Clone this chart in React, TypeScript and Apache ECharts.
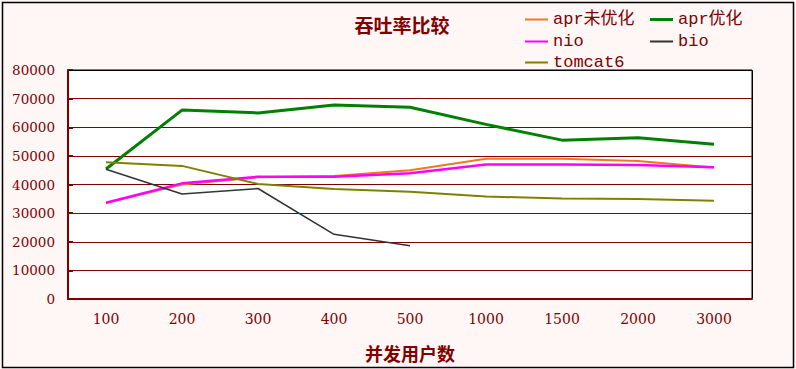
import React, { useEffect, useRef } from "react";
import * as echarts from "echarts";

const categories = ["100", "200", "300", "400", "500", "1000", "1500", "2000", "3000"];
const aprUnopt = [33500, 40000, 42500, 43000, 45000, 49000, 49000, 48200, 45900];
const aprOpt = [45400, 66000, 65000, 67800, 67000, 61000, 55500, 56300, 54100];
const nio = [33600, 40400, 42700, 42700, 43900, 47000, 47000, 46800, 46000];
const bio = [45300, 36700, 38600, 22600, 18600, null, null, null, null];
const tomcat6 = [47800, 46500, 40200, 38400, 37500, 35800, 35100, 34900, 34300];

const DARK = "#800000";
const SERIF = "'DejaVu Serif', 'Noto Sans CJK SC', serif";
const LEGEND_FONT = "'Liberation Mono', 'Noto Sans CJK SC', monospace";

export default function App() {
  const ref = useRef<HTMLDivElement>(null);
  useEffect(() => {
    document.body.style.margin = "0";
    const chart = echarts.init(ref.current!, undefined, { renderer: "svg" });
    const legendItem = (name: string, left: number, top: number, h: number) => ({
      data: [name],
      left,
      top,
      padding: 0,
      icon: "rect",
      itemWidth: 23,
      itemHeight: h,
      itemGap: 5,
      textStyle: { color: DARK, fontFamily: LEGEND_FONT, fontSize: 17 },
    });
    const line = (name: string, data: (number | null)[], color: string, width: number) => ({
      name,
      type: "line",
      data,
      symbol: "none",
      connectNulls: false,
      lineStyle: { color, width },
      itemStyle: { color },
    });
    chart.setOption({
      animation: false,
      backgroundColor: "#fff6f6",
      title: {
        text: "吞吐率比较",
        left: 397,
        textAlign: "center",
        top: 11,
        textStyle: { color: DARK, fontSize: 19, fontWeight: "bold", fontFamily: SERIF },
      },
      legend: [
        legendItem("apr未优化", 525, 11, 2),
        legendItem("apr优化", 650, 11, 3),
        legendItem("nio", 525, 33, 2),
        legendItem("bio", 650, 33, 2),
        legendItem("tomcat6", 525, 54, 2),
      ],
      grid: {
        left: 68,
        top: 70,
        width: 684,
        height: 229,
        show: true,
        backgroundColor: "#ffffff",
        borderColor: "#000000",
        borderWidth: 1,
      },
      xAxis: {
        type: "category",
        data: categories,
        boundaryGap: true,
        name: "并发用户数",
        nameLocation: "middle",
        nameGap: 46,
        nameTextStyle: { color: DARK, fontSize: 18, fontWeight: "bold", fontFamily: SERIF },
        axisLine: { lineStyle: { color: DARK, width: 2 } },
        axisTick: { inside: true, length: 7, lineStyle: { color: DARK, width: 2 } },
        axisLabel: { color: DARK, fontSize: 14, fontFamily: SERIF, margin: 13 },
        splitLine: { show: false },
      },
      yAxis: {
        type: "value",
        min: 0,
        max: 80000,
        interval: 10000,
        axisLine: { show: true, lineStyle: { color: DARK, width: 2 } },
        axisTick: { show: true, inside: true, length: 5, lineStyle: { color: DARK, width: 2 } },
        axisLabel: {
          color: DARK,
          fontSize: 13.5,
          fontFamily: SERIF,
          margin: 13,
          formatter: (v: number) => String(v),
        },
        splitLine: { show: true, lineStyle: { color: DARK, width: 1 } },
      },
      series: [
        line("apr未优化", aprUnopt, "#f07820", 2),
        line("apr优化", aprOpt, "#008000", 3),
        line("nio", nio, "#ff00ff", 2.5),
        line("bio", bio, "#333333", 1.5),
        line("tomcat6", tomcat6, "#808000", 2),
      ],
      graphic: [
        {
          type: "rect",
          shape: { x: 2.5, y: 2.5, width: 791, height: 365 },
          style: { fill: "none", stroke: "#000000", lineWidth: 1.5 },
          silent: true,
        },
        {
          type: "polyline",
          shape: { points: [[69, 70.5], [752.5, 70.5], [752.5, 298]] },
          style: { fill: "none", stroke: "#000000", lineWidth: 1 },
          z: 10,
          silent: true,
        },
      ],
    });
    return () => chart.dispose();
  }, []);
  return <div ref={ref} style={{ width: 796, height: 369 }} />;
}
